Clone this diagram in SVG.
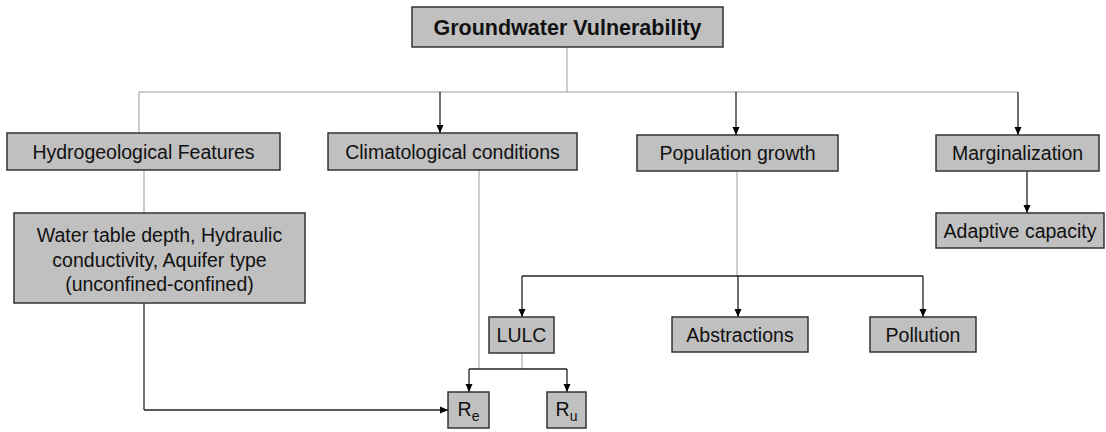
<svg xmlns="http://www.w3.org/2000/svg" width="1106" height="432" viewBox="0 0 1106 432">
<defs>
<marker id="ah" markerWidth="8" markerHeight="8" viewBox="0 0 8 8" refX="8" refY="4" orient="auto" markerUnits="userSpaceOnUse">
<path d="M0,0.5 L8,4 L0,7.5 z" fill="#000"/>
</marker>
<style>
.box{fill:#c0c0c0;stroke:#333;stroke-width:1.5}
.t{font-family:"Liberation Sans",Arial,sans-serif;font-size:19.5px;fill:#111;text-anchor:middle}
.tb{font-family:"Liberation Sans",Arial,sans-serif;font-size:21.5px;font-weight:bold;fill:#111;text-anchor:middle}
.g{stroke:#999;stroke-width:1;fill:none}
.d{stroke:#222;stroke-width:1.3;fill:none}
.da{stroke:#222;stroke-width:1.3;fill:none;marker-end:url(#ah)}
</style>
</defs>
<rect width="1106" height="432" fill="#fff"/>
<g id="connectors">
<path class="g" d="M567,47 V92"/>
<path class="g" d="M139,133 V92 H1018"/>
<path class="da" d="M440,92 V133"/>
<path class="da" d="M736,92 V135"/>
<path class="da" d="M1018,92 V135"/>
<path class="da" d="M1027,171 V213"/>
<path class="g" d="M144,170 V213"/>
<path class="d" d="M144,303 V410"/>
<path class="da" d="M144,410 H448"/>
<path class="g" d="M479,170 V369"/>
<path class="g" d="M737,171 V276"/>
<path class="d" d="M522,276 H923"/>
<path class="da" d="M522,276 V317"/>
<path class="da" d="M738,276 V317"/>
<path class="da" d="M923,276 V317"/>
<path class="g" d="M522,353 V369"/>
<path class="d" d="M469,369 H567"/>
<path class="da" d="M469,369 V392"/>
<path class="da" d="M567,369 V392"/>
</g>
<g id="n-gv"><rect class="box" x="412" y="7" width="311" height="40"/><text class="tb" x="567.5" y="34.5">Groundwater Vulnerability</text></g>
<g id="n-hydro"><rect class="box" x="7" y="133" width="273" height="37"/><text class="t" x="143.5" y="158.5">Hydrogeological Features</text></g>
<g id="n-clim"><rect class="box" x="328" y="133" width="249" height="37"/><text class="t" x="452.5" y="158.5">Climatological conditions</text></g>
<g id="n-pop"><rect class="box" x="637" y="135" width="201" height="36"/><text class="t" x="737.5" y="160">Population growth</text></g>
<g id="n-marg"><rect class="box" x="936" y="135" width="163" height="36"/><text class="t" x="1017.5" y="160">Marginalization</text></g>
<g id="n-adapt"><rect class="box" x="936" y="213" width="168" height="35"/><text class="t" x="1020" y="237.5">Adaptive capacity</text></g>
<g id="n-water"><rect class="box" x="14" y="213" width="291" height="90"/><text class="t" x="159.5" y="242">Water table depth, Hydraulic</text><text class="t" x="159.5" y="266.5">conductivity, Aquifer type</text><text class="t" x="159.5" y="291">(unconfined-confined)</text></g>
<g id="n-lulc"><rect class="box" x="489" y="317" width="65" height="36"/><text class="t" x="521.5" y="342">LULC</text></g>
<g id="n-abs"><rect class="box" x="672" y="317" width="136" height="35"/><text class="t" x="740" y="341.5">Abstractions</text></g>
<g id="n-poll"><rect class="box" x="870" y="317" width="106" height="35"/><text class="t" x="923" y="341.5">Pollution</text></g>
<g id="n-re"><rect class="box" x="448" y="392" width="41" height="36"/><text class="t" x="468.5" y="416">R<tspan font-size="14" dy="5">e</tspan></text></g>
<g id="n-ru"><rect class="box" x="547" y="392" width="39" height="36"/><text class="t" x="566.5" y="416">R<tspan font-size="14" dy="5">u</tspan></text></g>
</svg>
